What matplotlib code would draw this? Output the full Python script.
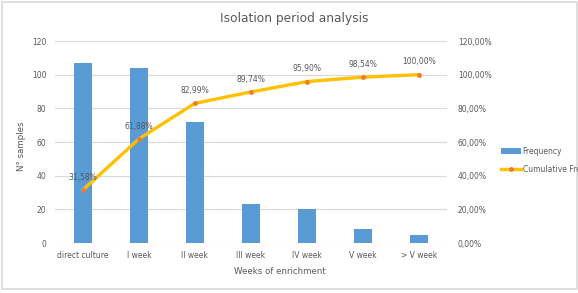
import matplotlib
matplotlib.use('Agg')
import matplotlib.pyplot as plt
from matplotlib.patches import Rectangle

# datos
categories = ['direct culture', 'I week', 'II week', 'III week', 'IV week', 'V week', '> V week']
frequency = [107, 104, 72, 23, 20.5, 8.5, 5]
cumulative = [31.58, 61.88, 82.99, 89.74, 95.90, 98.54, 100.00]
cum_labels = ['31,58%', '61,88%', '82,99%', '89,74%', '95,90%', '98,54%', '100,00%']
left_ticks = [0, 20, 40, 60, 80, 100, 120]
right_ticks = [0, 20, 40, 60, 80, 100, 120]

gray = '#595959'
grid = '#d9d9d9'

fig = plt.figure(figsize=(5.78, 2.93), dpi=100)
fig.patches.append(Rectangle((0.004, 0.012), 0.995, 0.98, transform=fig.transFigure,
                             fill=False, edgecolor=grid, linewidth=1.2))

ax = fig.add_axes([0.095, 0.1706, 0.678, 0.6894])
x = range(len(categories))
ax.bar(x, frequency, width=0.32, color='#5B9BD5', label='Frequency', zorder=2)
ax.set_ylim(0, 120)
ax.set_xlim(-0.5, len(categories) - 0.5)
ax.set_yticks(left_ticks)
ax.set_yticklabels([str(t) for t in left_ticks])
ax.set_xticks(list(x))
ax.set_xticklabels(categories)
ax.yaxis.grid(True, color=grid, linewidth=0.8, zorder=0)
ax.tick_params(length=0, labelsize=5.5, colors=gray, pad=6)
for s in ax.spines.values():
    s.set_visible(False)

ax2 = ax.twinx()
ax2.plot(x, cumulative, color='#FFC000', linewidth=2.4, marker='o', markersize=2.5,
         markerfacecolor='#ED7D31', markeredgecolor='#ED7D31', label='Cumulative Frequency', zorder=3)
ax2.set_ylim(0, 120)
ax2.set_yticks(right_ticks)
ax2.set_yticklabels(['%d,00%%' % t for t in right_ticks])
ax2.tick_params(length=0, labelsize=5.5, colors=gray, pad=8)
for s in ax2.spines.values():
    s.set_visible(False)

for xi, yi, lab in zip(x, cumulative, cum_labels):
    ax2.annotate(lab, (xi, yi), xytext=(0, 6), textcoords='offset points',
                 ha='center', va='bottom', fontsize=5.5, color=gray)

fig.text(0.509, 0.938, 'Isolation period analysis', ha='center', va='center',
         fontsize=8.8, color=gray)
fig.text(0.484, 0.072, 'Weeks of enrichment', ha='center', va='center',
         fontsize=6.2, color=gray)
fig.text(0.038, 0.5, 'N° samples', ha='center', va='center', rotation=90,
         fontsize=6.2, color=gray)

h1, l1 = ax.get_legend_handles_labels()
h2, l2 = ax2.get_legend_handles_labels()
fig.legend(h1 + h2, l1 + l2, loc='upper left', bbox_to_anchor=(0.862, 0.51),
           frameon=False, fontsize=5.5, labelcolor=gray, handlelength=2.6,
           handletextpad=0.2, borderaxespad=0, labelspacing=1.2)

fig.savefig('out.png', dpi=100)
